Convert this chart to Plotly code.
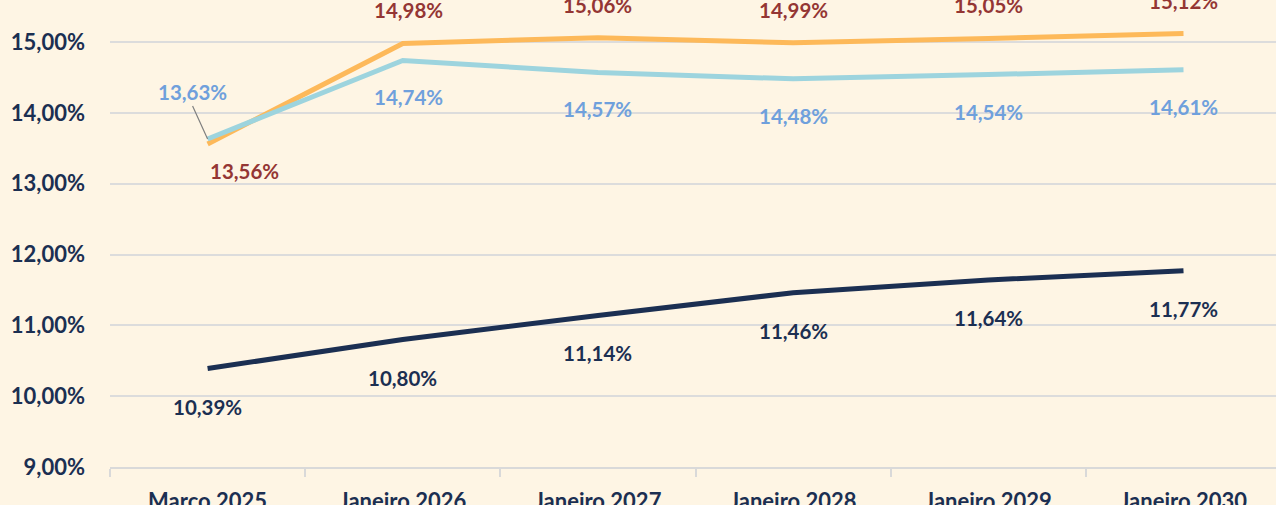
import plotly.graph_objects as go

categories = ["Março 2025", "Janeiro 2026", "Janeiro 2027", "Janeiro 2028", "Janeiro 2029", "Janeiro 2030"]
orange_values = [13.56, 14.98, 15.06, 14.99, 15.05, 15.12]
blue_values = [13.63, 14.74, 14.57, 14.48, 14.54, 14.61]
navy_values = [10.39, 10.80, 11.14, 11.46, 11.64, 11.77]
y_ticks = [9, 10, 11, 12, 13, 14, 15]

BG = "#fef5e4"
NAVY = "#1b2f52"
DARK_RED = "#943634"
LABEL_BLUE = "#6fa0dc"
FONT = "Lato"
LABEL_SIZE = 20.5


def fmt(v):
    return f"{v:.2f}%".replace(".", ",")


fig = go.Figure()

series = [
    (orange_values, "#fdb95a"),
    (blue_values, "#9dd4de"),
    (navy_values, NAVY),
]
for values, color in series:
    fig.add_trace(
        go.Scatter(
            x=categories,
            y=values,
            mode="lines",
            line={"color": color, "width": 5},
            hoverinfo="skip",
            showlegend=False,
        )
    )

# data labels
for i, cat in enumerate(categories):
    # orange: first below (shifted right), rest above
    fig.add_annotation(
        x=cat, y=orange_values[i], text=fmt(orange_values[i]),
        yshift=-27 if i == 0 else 33,
        xshift=37 if i == 0 else (6 if i == 1 else 0),
        showarrow=False, font={"color": DARK_RED, "size": LABEL_SIZE, "family": FONT},
    )
    # navy: below
    fig.add_annotation(
        x=cat, y=navy_values[i], text=fmt(navy_values[i]),
        yshift=-38, showarrow=False,
        font={"color": NAVY, "size": LABEL_SIZE, "family": FONT},
    )
    # blue: below, first one above-left with leader line
    if i == 0:
        fig.add_annotation(
            x=cat, y=blue_values[i], text=fmt(blue_values[i]),
            showarrow=True, arrowhead=0, arrowwidth=1.2, arrowcolor="#7f7f7f",
            ax=-15, ay=-33, yanchor="bottom",
            font={"color": LABEL_BLUE, "size": LABEL_SIZE, "family": FONT},
        )
    else:
        fig.add_annotation(
            x=cat, y=blue_values[i], text=fmt(blue_values[i]),
            yshift=-37, xshift=6 if i == 1 else 0, showarrow=False,
            font={"color": LABEL_BLUE, "size": LABEL_SIZE, "family": FONT},
        )

fig.update_layout(
    width=1276,
    height=505,
    margin={"l": 110, "r": 0, "t": 0, "b": 38},
    paper_bgcolor=BG,
    plot_bgcolor=BG,
    font={"family": FONT, "color": NAVY},
)

fig.update_xaxes(
    range=[-0.5, 5.474],
    automargin=False,
    showgrid=False,
    showline=True,
    linecolor="#d9d9d9",
    linewidth=2,
    ticks="outside",
    tickson="boundaries",
    ticklen=8,
    tickcolor="#d9d9d9",
    tickwidth=1.5,
    ticklabelstandoff=14,
    tickfont={"size": 22, "color": NAVY, "family": FONT, "weight": "bold"},
)

fig.update_yaxes(
    range=[9, 15.593],
    automargin=False,
    tickvals=y_ticks,
    ticktext=[fmt(v) for v in y_ticks],
    showgrid=True,
    gridcolor="#dcdcdc",
    gridwidth=2,
    zeroline=False,
    showline=False,
    ticklabelstandoff=24,
    tickfont={"size": 22, "color": NAVY, "family": FONT, "weight": "bold"},
)

for a in fig.layout.annotations:
    a.font.weight = "bold"

# remove the default page margin so the chart fills the window exactly
fig.write_html(
    "out.html",
    config={"displayModeBar": False},
    post_script="document.body.style.margin='0';document.body.style.overflow='hidden';",
)
